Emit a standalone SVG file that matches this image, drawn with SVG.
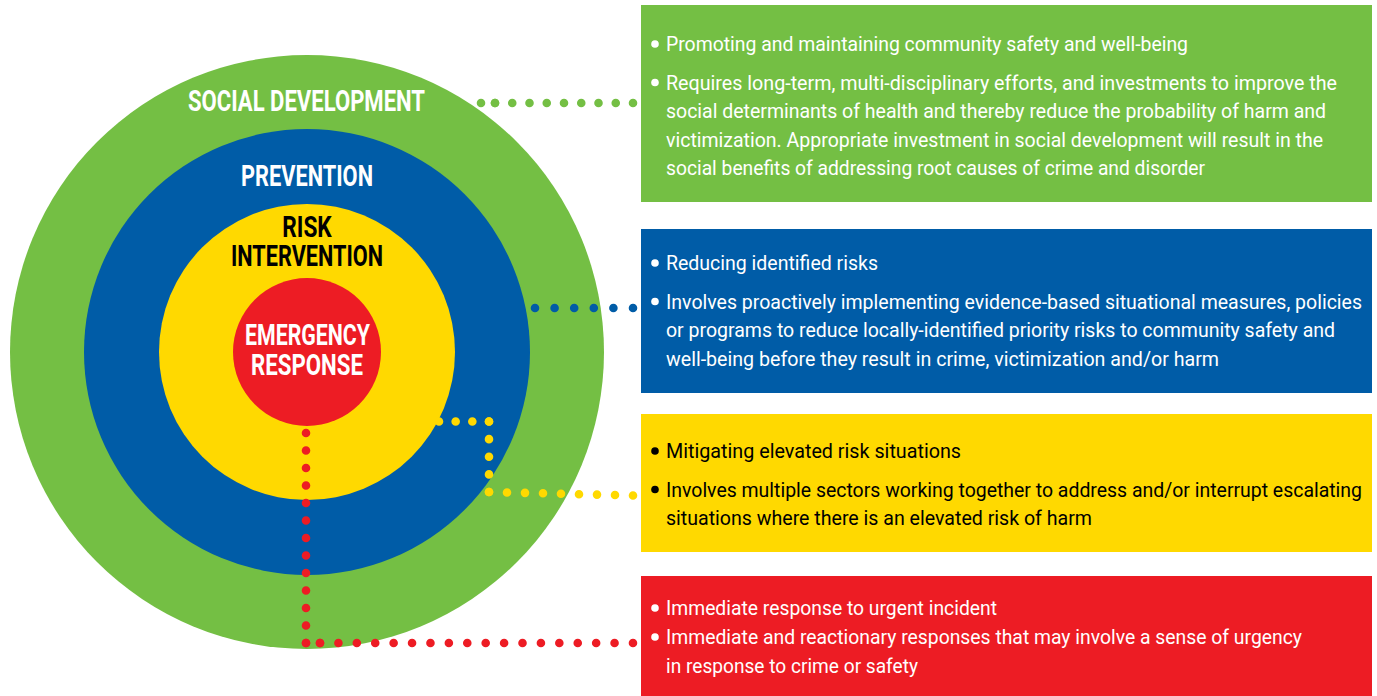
<svg xmlns="http://www.w3.org/2000/svg" width="1377" height="696" viewBox="0 0 1377 696">
  <style>
    .g{fill:#74bf44}.b{fill:#005ca7}.y{fill:#ffd900}.r{fill:#ed1c24}
    .title{font-family:Roboto,"Liberation Sans",sans-serif;font-weight:bold;font-size:29px;text-anchor:middle}
    .body{font-family:Roboto,"Liberation Sans",sans-serif;font-size:21px}
    .w{fill:#ffffff}.k{fill:#000000}
    .dots{fill:none;stroke-width:8.6;stroke-linecap:round}
  </style>
  <rect width="1377" height="696" fill="#ffffff"/>

  <g id="circles">
    <g id="social-development">
      <circle class="g" cx="307" cy="352" r="297"/>
      <text class="title w" x="306.5" y="111" textLength="237" lengthAdjust="spacingAndGlyphs">SOCIAL DEVELOPMENT</text>
    </g>
    <g id="prevention">
      <circle class="b" cx="307" cy="352" r="223"/>
      <text class="title w" x="307" y="185.5" textLength="132" lengthAdjust="spacingAndGlyphs">PREVENTION</text>
    </g>
    <g id="risk-intervention">
      <circle class="y" cx="307" cy="352" r="148"/>
      <text class="title k"><tspan x="307" y="237" textLength="49.5" lengthAdjust="spacingAndGlyphs">RISK</tspan><tspan x="307" y="266" textLength="152" lengthAdjust="spacingAndGlyphs">INTERVENTION</tspan></text>
    </g>
    <g id="emergency-response">
      <circle class="r" cx="307" cy="352" r="74"/>
      <text class="title w"><tspan x="307.5" y="345" textLength="125" lengthAdjust="spacingAndGlyphs">EMERGENCY</tspan><tspan x="307" y="375" textLength="112" lengthAdjust="spacingAndGlyphs">RESPONSE</tspan></text>
    </g>
  </g>

  <g id="connectors">
    <path class="dots" stroke="#74bf44" stroke-dasharray="0 14" d="M481 103 H495.2"/>
    <path class="dots" stroke="#74bf44" stroke-dasharray="0 17.25" d="M495 103 H633.5"/>
    <path class="dots" stroke="#005ca7" stroke-dasharray="0 19.6" d="M535 308 H633.5"/>
    <path class="dots" stroke="#ffd900" stroke-dasharray="0 16.667" d="M439 421.5 H489.5"/>
    <path class="dots" stroke="#ffd900" stroke-dasharray="0 17.625" d="M489 421.5 V492.5"/>
    <path class="dots" stroke="#ffd900" stroke-dasharray="0 18.005" d="M489 492 L633.5 495.5"/>
    <path class="dots" stroke="#ed1c24" stroke-dasharray="0 17.5" d="M306 433 V643.5"/>
    <path class="dots" stroke="#ed1c24" stroke-dasharray="0 14" d="M306 643 H320.2"/>
    <path class="dots" stroke="#ed1c24" stroke-dasharray="0 18.41" d="M320 643 H633.5"/>
  </g>

  <g id="box-social-development">
    <rect class="g" x="641" y="5" width="731" height="197"/>
    <circle class="w" cx="655" cy="44" r="3.8"/>
    <circle class="w" cx="655" cy="82.5" r="3.8"/>
    <g transform="scale(0.82 1)">
      <text class="body w" x="812.2" y="51.5" textLength="636.6" lengthAdjust="spacingAndGlyphs">Promoting and maintaining community safety and well-being</text>
      <text class="body w" x="812.2" y="90" textLength="818.3" lengthAdjust="spacingAndGlyphs">Requires long-term, multi-disciplinary efforts, and investments to improve the</text>
      <text class="body w" x="812.2" y="118.5" textLength="804.9" lengthAdjust="spacingAndGlyphs">social determinants of health and thereby reduce the probability of harm and</text>
      <text class="body w" x="812.2" y="147" textLength="801.2" lengthAdjust="spacingAndGlyphs">victimization. Appropriate investment in social development will result in the</text>
      <text class="body w" x="812.2" y="175.5" textLength="657.3" lengthAdjust="spacingAndGlyphs">social benefits of addressing root causes of crime and disorder</text>
    </g>
  </g>

  <g id="box-prevention">
    <rect class="b" x="641" y="229" width="731" height="164"/>
    <circle class="w" cx="655" cy="263" r="3.8"/>
    <circle class="w" cx="655" cy="301.5" r="3.8"/>
    <g transform="scale(0.82 1)">
      <text class="body w" x="812.2" y="270.5" textLength="258.5" lengthAdjust="spacingAndGlyphs">Reducing identified risks</text>
      <text class="body w" x="812.2" y="309" textLength="848.8" lengthAdjust="spacingAndGlyphs">Involves proactively implementing evidence-based situational measures, policies</text>
      <text class="body w" x="812.2" y="337.5" textLength="815.9" lengthAdjust="spacingAndGlyphs">or programs to reduce locally-identified priority risks to community safety and</text>
      <text class="body w" x="812.2" y="366" textLength="674.4" lengthAdjust="spacingAndGlyphs">well-being before they result in crime, victimization and/or harm</text>
    </g>
  </g>

  <g id="box-risk-intervention">
    <rect class="y" x="641" y="414" width="731" height="138"/>
    <circle class="k" cx="655" cy="451" r="3.8"/>
    <circle class="k" cx="655" cy="489.5" r="3.8"/>
    <g transform="scale(0.82 1)">
      <text class="body k" x="812.2" y="458.5" textLength="359.8" lengthAdjust="spacingAndGlyphs">Mitigating elevated risk situations</text>
      <text class="body k" x="812.2" y="497" textLength="848.8" lengthAdjust="spacingAndGlyphs">Involves multiple sectors working together to address and/or interrupt escalating</text>
      <text class="body k" x="812.2" y="525.5" textLength="519.5" lengthAdjust="spacingAndGlyphs">situations where there is an elevated risk of harm</text>
    </g>
  </g>

  <g id="box-emergency-response">
    <rect class="r" x="641" y="576" width="731" height="120"/>
    <circle class="w" cx="655" cy="608" r="3.8"/>
    <circle class="w" cx="655" cy="637" r="3.8"/>
    <g transform="scale(0.82 1)">
      <text class="body w" x="812.2" y="615.5" textLength="403.7" lengthAdjust="spacingAndGlyphs">Immediate response to urgent incident</text>
      <text class="body w" x="812.2" y="644.5" textLength="775.6" lengthAdjust="spacingAndGlyphs">Immediate and reactionary responses that may involve a sense of urgency</text>
      <text class="body w" x="812.2" y="673" textLength="307.3" lengthAdjust="spacingAndGlyphs">in response to crime or safety</text>
    </g>
  </g>
</svg>
